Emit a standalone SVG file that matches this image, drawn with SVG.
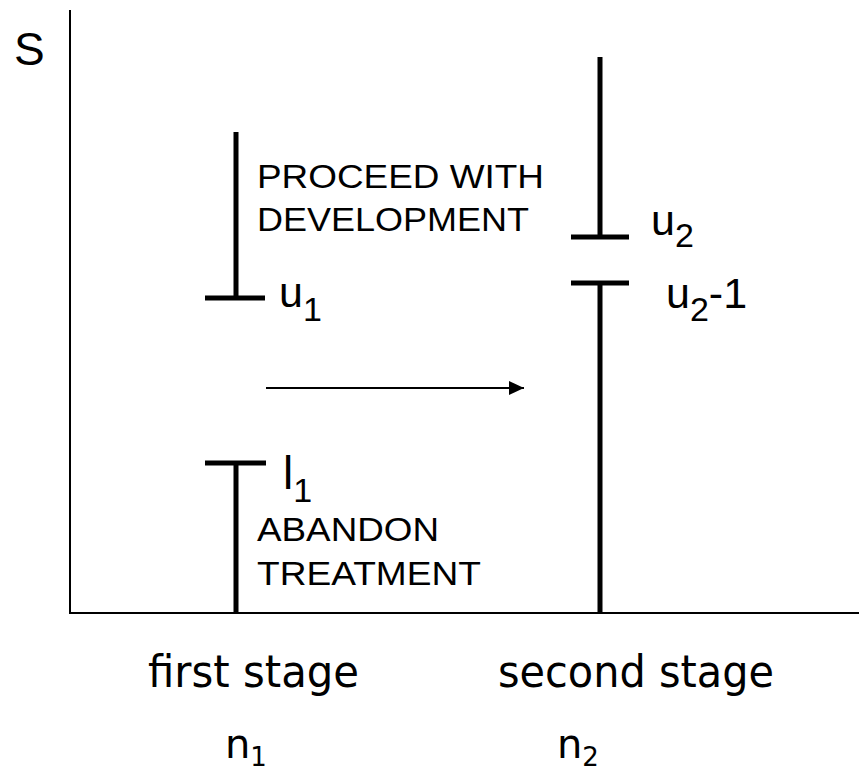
<svg xmlns="http://www.w3.org/2000/svg" width="859" height="775" viewBox="0 0 859 775">
<style>
.axis{stroke:#000;stroke-width:2;fill:none}
.bar{stroke:#000;stroke-width:5;fill:none}
.lbl{font-family:"Liberation Sans",Arial,sans-serif;fill:#000}
.big{font-family:"DejaVu Sans",Tahoma,sans-serif;fill:#000}
</style>
<defs>
<marker id="ah" viewBox="0 0 10 10" refX="10" refY="5" markerWidth="15" markerHeight="14" markerUnits="userSpaceOnUse" orient="auto" preserveAspectRatio="none">
<path d="M0,0 L10,5 L0,10 z" fill="#000"/>
</marker>
</defs>
<rect width="859" height="775" fill="#fff"/>
<g id="axes">
<line class="axis" x1="70" y1="10" x2="70" y2="614"/>
<line class="axis" x1="69" y1="613" x2="859" y2="613"/>
<text class="lbl" x="14" y="65" font-size="46">S</text>
</g>
<g id="stage1-upper">
<line class="bar" x1="236" y1="132" x2="236" y2="298"/>
<line class="bar" x1="205" y1="298" x2="265" y2="298"/>
<text class="lbl" x="257" y="188" font-size="34" textLength="287" lengthAdjust="spacingAndGlyphs">PROCEED WITH</text>
<text class="lbl" x="257" y="231" font-size="34" textLength="272" lengthAdjust="spacingAndGlyphs">DEVELOPMENT</text>
<text class="lbl" x="279" y="307" font-size="43">u<tspan font-size="34" dy="14">1</tspan></text>
</g>
<g id="stage1-lower">
<line class="bar" x1="236" y1="463" x2="236" y2="613"/>
<line class="bar" x1="205" y1="463" x2="266" y2="463"/>
<text class="lbl" x="283" y="489" font-size="46">l<tspan font-size="34" dy="13">1</tspan></text>
<text class="lbl" x="257" y="541" font-size="33" textLength="182" lengthAdjust="spacingAndGlyphs">ABANDON</text>
<text class="lbl" x="257" y="585" font-size="33" textLength="224" lengthAdjust="spacingAndGlyphs">TREATMENT</text>
</g>
<g id="stage2-upper">
<line class="bar" x1="600" y1="57" x2="600" y2="237"/>
<line class="bar" x1="571" y1="237" x2="629" y2="237"/>
<text class="lbl" x="651" y="235" font-size="43">u<tspan font-size="34" dy="12">2</tspan></text>
</g>
<g id="stage2-lower">
<line class="bar" x1="600" y1="283" x2="600" y2="613"/>
<line class="bar" x1="571" y1="283" x2="629" y2="283"/>
<text class="lbl" x="666" y="308" font-size="43">u<tspan font-size="34" dy="13">2</tspan><tspan dy="-13">-1</tspan></text>
</g>
<g id="connectors">
<line x1="266" y1="388" x2="524" y2="388" stroke="#000" stroke-width="2" marker-end="url(#ah)"/>
</g>
<g id="labels">
<text class="big" x="148" y="687" font-size="44" textLength="211" lengthAdjust="spacingAndGlyphs">first stage</text>
<text class="big" x="498" y="687" font-size="44" textLength="276" lengthAdjust="spacingAndGlyphs">second stage</text>
<text class="big" x="225" y="758" font-size="40">n<tspan font-size="26" dy="8">1</tspan></text>
<text class="big" x="557" y="758" font-size="40">n<tspan font-size="26" dy="8">2</tspan></text>
</g>
</svg>
